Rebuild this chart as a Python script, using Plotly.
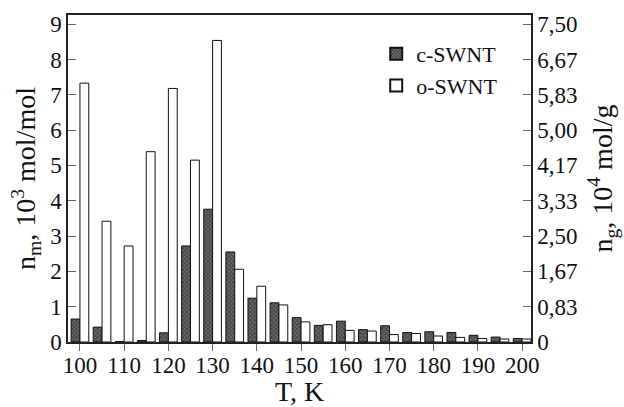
import plotly.graph_objects as go

temps = [100, 105, 110, 115, 120, 125, 130, 135, 140, 145, 150, 155, 160,
         165, 170, 175, 180, 185, 190, 195, 200]
c_swnt = [0.65, 0.42, 0.01, 0.04, 0.26, 2.72, 3.76, 2.55, 1.24, 1.11, 0.69,
          0.47, 0.59, 0.35, 0.46, 0.27, 0.29, 0.27, 0.19, 0.14, 0.10]
o_swnt = [7.33, 3.42, 2.72, 5.39, 7.18, 5.15, 8.54, 2.06, 1.58, 1.05, 0.57,
          0.49, 0.33, 0.31, 0.21, 0.24, 0.17, 0.13, 0.10, 0.085, 0.085]
x_ticks = [100, 110, 120, 130, 140, 150, 160, 170, 180, 190, 200]
left_ticks = [0, 1, 2, 3, 4, 5, 6, 7, 8, 9]
right_labels = ["0", "0,83", "1,67", "2,50", "3,33", "4,17", "5,00", "5,83", "6,67", "7,50"]

FONT = "Liberation Serif, Times New Roman, serif"
ymax = 9.26
ratio = 7.5 / 9.0

fig = go.Figure()
fig.add_trace(go.Bar(
    x=temps, y=c_swnt, name="c-SWNT",
    marker=dict(color="#444", line=dict(color="#111", width=1),
                pattern=dict(shape="x", size=3, solidity=0.55,
                             fgcolor="#111", bgcolor="#6e6e6e")),
))
fig.add_trace(go.Bar(
    x=temps, y=o_swnt, name="o-SWNT",
    marker=dict(color="white", line=dict(color="#111", width=1)),
))
fig.add_trace(go.Scatter(x=[temps[0]], y=[0], yaxis="y2", mode="markers",
                         marker=dict(opacity=0), showlegend=False,
                         hoverinfo="skip"))

fig.update_layout(
    width=624, height=407,
    margin=dict(l=68, r=93, t=15, b=65),
    paper_bgcolor="white", plot_bgcolor="white",
    barmode="group", bargap=0.2, bargroupgap=0,
    font=dict(family=FONT, size=23, color="#111"),
    showlegend=True,
    legend=dict(x=0.94, y=0.945, xanchor="right", yanchor="top",
                bgcolor="rgba(0,0,0,0)", font=dict(family=FONT, size=22),
                tracegroupgap=0, itemsizing="constant"),
    xaxis=dict(range=[97.3, 202.0], tickvals=x_ticks, automargin=False,
               ticks="outside", ticklen=7, tickcolor="#666",
               ticklabelstandoff=-5,
               showline=True, linecolor="#222", linewidth=1.5, mirror=True,
               showgrid=False, zeroline=False,
               title=dict(text="T, K", standoff=2)),
    yaxis=dict(range=[0, ymax], tickvals=left_ticks, automargin=False,
               ticks="inside", ticklen=8, tickcolor="#666",
               showline=True, linecolor="#222", linewidth=1.5,
               showgrid=False, zeroline=False,
               title=dict(text="n<sub>m</sub>, 10<sup>3</sup> mol/mol", standoff=6)),
    yaxis2=dict(range=[0, ymax * ratio], overlaying="y", side="right",
                tickvals=[v * ratio for v in left_ticks], ticktext=right_labels,
                automargin=False,
                ticks="inside", ticklen=8, tickcolor="#666",
                showline=True, linecolor="#222", linewidth=1.5,
                showgrid=False, zeroline=False,
                title=dict(text="n<sub>g</sub>, 10<sup>4</sup> mol/g", standoff=16)),
)

fig.write_html("out.html")
